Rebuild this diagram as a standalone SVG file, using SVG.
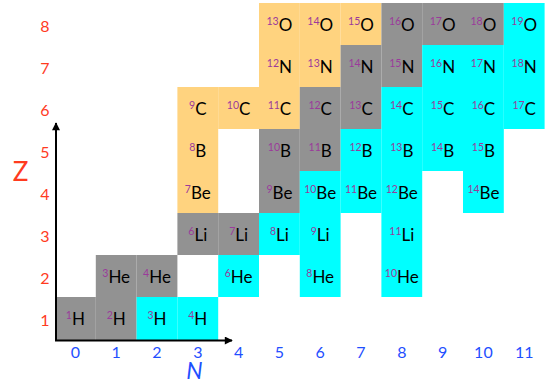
<svg xmlns="http://www.w3.org/2000/svg" width="551" height="382" viewBox="0 0 551 382">
<defs>
<style>
.g{fill:#929292}
.o{fill:#FFD37F}
.c{fill:#00FFFF}
.t{font-family:Lato,"Open Sans","DejaVu Sans",sans-serif;font-size:17px;fill:#000;text-anchor:middle}
.m{font-size:10.5px;fill:#9B3A9B}
.zn{font-family:Lato,"Open Sans","DejaVu Sans",sans-serif;font-size:16px;fill:#FF3B1F;text-anchor:middle}
.nn{font-family:Lato,"Open Sans","DejaVu Sans",sans-serif;font-size:16px;fill:#1F4FFF;text-anchor:middle}
.ax{stroke:#000;stroke-width:2;fill:none}
</style>
<marker id="ar" viewBox="0 0 10 10" refX="9" refY="5" markerWidth="4.5" markerHeight="4" orient="auto" markerUnits="strokeWidth">
<path d="M0,0 L10,5 L0,10 Z" fill="#000"/>
</marker>
</defs>
<rect width="551" height="382" fill="#fff"/>

<g id="cells">
<g id="H1"><rect class="g" x="55" y="297" width="40.8" height="43"/><text class="t" x="75.4" y="324.5"><tspan class="m" dy="-6">1</tspan><tspan dy="6">H</tspan></text></g>
<g id="H2"><rect class="g" x="95.8" y="297" width="40.8" height="43"/><text class="t" x="116.2" y="324.5"><tspan class="m" dy="-6">2</tspan><tspan dy="6">H</tspan></text></g>
<g id="H3"><rect class="c" x="136.6" y="297" width="40.8" height="43"/><text class="t" x="157" y="324.5"><tspan class="m" dy="-6">3</tspan><tspan dy="6">H</tspan></text></g>
<g id="H4"><rect class="c" x="177.4" y="297" width="40.8" height="43"/><text class="t" x="197.8" y="324.5"><tspan class="m" dy="-6">4</tspan><tspan dy="6">H</tspan></text></g>
<g id="He3"><rect class="g" x="95.8" y="255" width="40.8" height="42"/><text class="t" x="116.2" y="282.5"><tspan class="m" dy="-6">3</tspan><tspan dy="6">He</tspan></text></g>
<g id="He4"><rect class="g" x="136.6" y="255" width="40.8" height="42"/><text class="t" x="157" y="282.5"><tspan class="m" dy="-6">4</tspan><tspan dy="6">He</tspan></text></g>
<g id="He6"><rect class="c" x="218.2" y="255" width="40.8" height="42"/><text class="t" x="238.6" y="282.5"><tspan class="m" dy="-6">6</tspan><tspan dy="6">He</tspan></text></g>
<g id="He8"><rect class="c" x="299.8" y="255" width="40.8" height="42"/><text class="t" x="320.2" y="282.5"><tspan class="m" dy="-6">8</tspan><tspan dy="6">He</tspan></text></g>
<g id="He10"><rect class="c" x="381.4" y="255" width="40.8" height="42"/><text class="t" x="401.8" y="282.5"><tspan class="m" dy="-6">10</tspan><tspan dy="6">He</tspan></text></g>
<g id="Li6"><rect class="g" x="177.4" y="213" width="40.8" height="42"/><text class="t" x="197.8" y="240.5"><tspan class="m" dy="-6">6</tspan><tspan dy="6">Li</tspan></text></g>
<g id="Li7"><rect class="g" x="218.2" y="213" width="40.8" height="42"/><text class="t" x="238.6" y="240.5"><tspan class="m" dy="-6">7</tspan><tspan dy="6">Li</tspan></text></g>
<g id="Li8"><rect class="c" x="259" y="213" width="40.8" height="42"/><text class="t" x="279.4" y="240.5"><tspan class="m" dy="-6">8</tspan><tspan dy="6">Li</tspan></text></g>
<g id="Li9"><rect class="c" x="299.8" y="213" width="40.8" height="42"/><text class="t" x="320.2" y="240.5"><tspan class="m" dy="-6">9</tspan><tspan dy="6">Li</tspan></text></g>
<g id="Li11"><rect class="c" x="381.4" y="213" width="40.8" height="42"/><text class="t" x="401.8" y="240.5"><tspan class="m" dy="-6">11</tspan><tspan dy="6">Li</tspan></text></g>
<g id="Be7"><rect class="o" x="177.4" y="171" width="40.8" height="42"/><text class="t" x="197.8" y="198.5"><tspan class="m" dy="-6">7</tspan><tspan dy="6">Be</tspan></text></g>
<g id="Be9"><rect class="g" x="259" y="171" width="40.8" height="42"/><text class="t" x="279.4" y="198.5"><tspan class="m" dy="-6">9</tspan><tspan dy="6">Be</tspan></text></g>
<g id="Be10"><rect class="c" x="299.8" y="171" width="40.8" height="42"/><text class="t" x="320.2" y="198.5"><tspan class="m" dy="-6">10</tspan><tspan dy="6">Be</tspan></text></g>
<g id="Be11"><rect class="c" x="340.6" y="171" width="40.8" height="42"/><text class="t" x="361" y="198.5"><tspan class="m" dy="-6">11</tspan><tspan dy="6">Be</tspan></text></g>
<g id="Be12"><rect class="c" x="381.4" y="171" width="40.8" height="42"/><text class="t" x="401.8" y="198.5"><tspan class="m" dy="-6">12</tspan><tspan dy="6">Be</tspan></text></g>
<g id="Be14"><rect class="c" x="463" y="171" width="40.8" height="42"/><text class="t" x="483.4" y="198.5"><tspan class="m" dy="-6">14</tspan><tspan dy="6">Be</tspan></text></g>
<g id="B8"><rect class="o" x="177.4" y="129" width="40.8" height="42"/><text class="t" x="197.8" y="156.5"><tspan class="m" dy="-6">8</tspan><tspan dy="6">B</tspan></text></g>
<g id="B10"><rect class="g" x="259" y="129" width="40.8" height="42"/><text class="t" x="279.4" y="156.5"><tspan class="m" dy="-6">10</tspan><tspan dy="6">B</tspan></text></g>
<g id="B11"><rect class="g" x="299.8" y="129" width="40.8" height="42"/><text class="t" x="320.2" y="156.5"><tspan class="m" dy="-6">11</tspan><tspan dy="6">B</tspan></text></g>
<g id="B12"><rect class="c" x="340.6" y="129" width="40.8" height="42"/><text class="t" x="361" y="156.5"><tspan class="m" dy="-6">12</tspan><tspan dy="6">B</tspan></text></g>
<g id="B13"><rect class="c" x="381.4" y="129" width="40.8" height="42"/><text class="t" x="401.8" y="156.5"><tspan class="m" dy="-6">13</tspan><tspan dy="6">B</tspan></text></g>
<g id="B14"><rect class="c" x="422.2" y="129" width="40.8" height="42"/><text class="t" x="442.6" y="156.5"><tspan class="m" dy="-6">14</tspan><tspan dy="6">B</tspan></text></g>
<g id="B15"><rect class="c" x="463" y="129" width="40.8" height="42"/><text class="t" x="483.4" y="156.5"><tspan class="m" dy="-6">15</tspan><tspan dy="6">B</tspan></text></g>
<g id="C9"><rect class="o" x="177.4" y="87" width="40.8" height="42"/><text class="t" x="197.8" y="114.5"><tspan class="m" dy="-6">9</tspan><tspan dy="6">C</tspan></text></g>
<g id="C10"><rect class="o" x="218.2" y="87" width="40.8" height="42"/><text class="t" x="238.6" y="114.5"><tspan class="m" dy="-6">10</tspan><tspan dy="6">C</tspan></text></g>
<g id="C11"><rect class="o" x="259" y="87" width="40.8" height="42"/><text class="t" x="279.4" y="114.5"><tspan class="m" dy="-6">11</tspan><tspan dy="6">C</tspan></text></g>
<g id="C12"><rect class="g" x="299.8" y="87" width="40.8" height="42"/><text class="t" x="320.2" y="114.5"><tspan class="m" dy="-6">12</tspan><tspan dy="6">C</tspan></text></g>
<g id="C13"><rect class="g" x="340.6" y="87" width="40.8" height="42"/><text class="t" x="361" y="114.5"><tspan class="m" dy="-6">13</tspan><tspan dy="6">C</tspan></text></g>
<g id="C14"><rect class="c" x="381.4" y="87" width="40.8" height="42"/><text class="t" x="401.8" y="114.5"><tspan class="m" dy="-6">14</tspan><tspan dy="6">C</tspan></text></g>
<g id="C15"><rect class="c" x="422.2" y="87" width="40.8" height="42"/><text class="t" x="442.6" y="114.5"><tspan class="m" dy="-6">15</tspan><tspan dy="6">C</tspan></text></g>
<g id="C16"><rect class="c" x="463" y="87" width="40.8" height="42"/><text class="t" x="483.4" y="114.5"><tspan class="m" dy="-6">16</tspan><tspan dy="6">C</tspan></text></g>
<g id="C17"><rect class="c" x="503.8" y="87" width="40.8" height="42"/><text class="t" x="524.2" y="114.5"><tspan class="m" dy="-6">17</tspan><tspan dy="6">C</tspan></text></g>
<g id="N12"><rect class="o" x="259" y="45" width="40.8" height="42"/><text class="t" x="279.4" y="72.5"><tspan class="m" dy="-6">12</tspan><tspan dy="6">N</tspan></text></g>
<g id="N13"><rect class="o" x="299.8" y="45" width="40.8" height="42"/><text class="t" x="320.2" y="72.5"><tspan class="m" dy="-6">13</tspan><tspan dy="6">N</tspan></text></g>
<g id="N14"><rect class="g" x="340.6" y="45" width="40.8" height="42"/><text class="t" x="361" y="72.5"><tspan class="m" dy="-6">14</tspan><tspan dy="6">N</tspan></text></g>
<g id="N15"><rect class="g" x="381.4" y="45" width="40.8" height="42"/><text class="t" x="401.8" y="72.5"><tspan class="m" dy="-6">15</tspan><tspan dy="6">N</tspan></text></g>
<g id="N16"><rect class="c" x="422.2" y="45" width="40.8" height="42"/><text class="t" x="442.6" y="72.5"><tspan class="m" dy="-6">16</tspan><tspan dy="6">N</tspan></text></g>
<g id="N17"><rect class="c" x="463" y="45" width="40.8" height="42"/><text class="t" x="483.4" y="72.5"><tspan class="m" dy="-6">17</tspan><tspan dy="6">N</tspan></text></g>
<g id="N18"><rect class="c" x="503.8" y="45" width="40.8" height="42"/><text class="t" x="524.2" y="72.5"><tspan class="m" dy="-6">18</tspan><tspan dy="6">N</tspan></text></g>
<g id="O13"><rect class="o" x="259" y="3" width="40.8" height="42"/><text class="t" x="279.4" y="30.5"><tspan class="m" dy="-6">13</tspan><tspan dy="6">O</tspan></text></g>
<g id="O14"><rect class="o" x="299.8" y="3" width="40.8" height="42"/><text class="t" x="320.2" y="30.5"><tspan class="m" dy="-6">14</tspan><tspan dy="6">O</tspan></text></g>
<g id="O15"><rect class="o" x="340.6" y="3" width="40.8" height="42"/><text class="t" x="361" y="30.5"><tspan class="m" dy="-6">15</tspan><tspan dy="6">O</tspan></text></g>
<g id="O16"><rect class="g" x="381.4" y="3" width="40.8" height="42"/><text class="t" x="401.8" y="30.5"><tspan class="m" dy="-6">16</tspan><tspan dy="6">O</tspan></text></g>
<g id="O17"><rect class="g" x="422.2" y="3" width="40.8" height="42"/><text class="t" x="442.6" y="30.5"><tspan class="m" dy="-6">17</tspan><tspan dy="6">O</tspan></text></g>
<g id="O18"><rect class="g" x="463" y="3" width="40.8" height="42"/><text class="t" x="483.4" y="30.5"><tspan class="m" dy="-6">18</tspan><tspan dy="6">O</tspan></text></g>
<g id="O19"><rect class="c" x="503.8" y="3" width="40.8" height="42"/><text class="t" x="524.2" y="30.5"><tspan class="m" dy="-6">19</tspan><tspan dy="6">O</tspan></text></g>
</g>

<g id="axes">
<line class="ax" x1="56" y1="341" x2="56" y2="123" marker-end="url(#ar)"/>
<line class="ax" x1="55" y1="340.5" x2="232" y2="340.5" marker-end="url(#ar)"/>
</g>

<g id="z-labels">
<text class="zn" x="45" y="31.5">8</text>
<text class="zn" x="45" y="73.5">7</text>
<text class="zn" x="45" y="115.5">6</text>
<text class="zn" x="45" y="157.5">5</text>
<text class="zn" x="45" y="199.5">4</text>
<text class="zn" x="45" y="241.5">3</text>
<text class="zn" x="45" y="283.5">2</text>
<text class="zn" x="45" y="325.5">1</text>
<text class="zn" x="20.5" y="181" style="font-size:26px">Z</text>
</g>
<g id="n-labels">
<text class="nn" x="75.4" y="358">0</text>
<text class="nn" x="116.2" y="358">1</text>
<text class="nn" x="157" y="358">2</text>
<text class="nn" x="197.8" y="358">3</text>
<text class="nn" x="238.6" y="358">4</text>
<text class="nn" x="279.4" y="358">5</text>
<text class="nn" x="320.2" y="358">6</text>
<text class="nn" x="361" y="358">7</text>
<text class="nn" x="401.8" y="358">8</text>
<text class="nn" x="442.6" y="358">9</text>
<text class="nn" x="483.4" y="358">10</text>
<text class="nn" x="524.2" y="358">11</text>
<text class="nn" x="194.5" y="379" style="font-size:23px;font-style:italic">N</text>
</g>
</svg>
